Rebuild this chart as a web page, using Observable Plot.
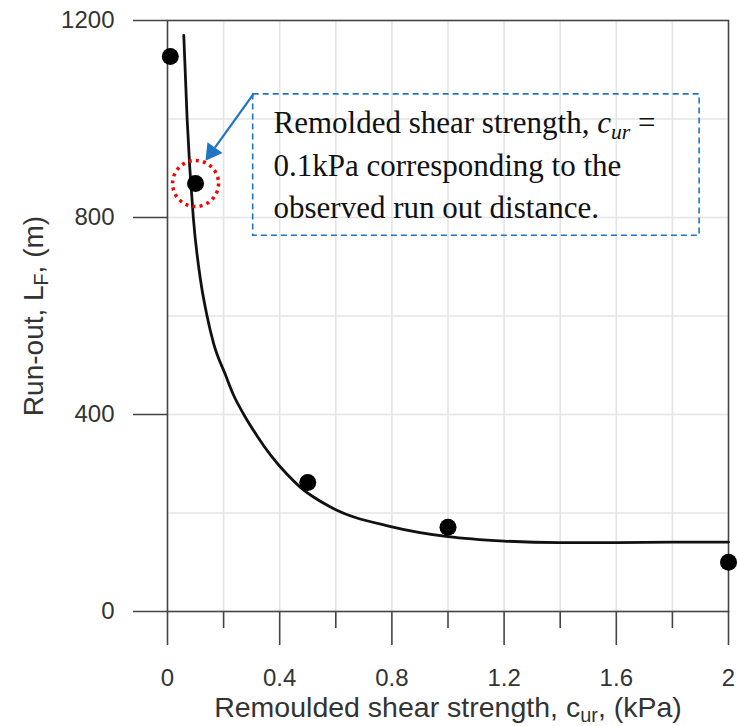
<!DOCTYPE html>
<html><head><meta charset="utf-8">
<script src="https://cdn.jsdelivr.net/npm/d3@7"></script>
<script src="https://cdn.jsdelivr.net/npm/@observablehq/plot@0.6"></script>
<style>body{margin:0;background:#fff}#chart{width:737px;height:726px}</style>
</head><body><div id="chart"></div>
<script>
// observed points
const pointX = [0.01, 0.1, 0.5, 1.0, 2.0];
const pointY = [1127, 869, 262, 171, 100];
// fitted curve
const curveX = [0.058, 0.070, 0.092, 0.118, 0.141, 0.164, 0.207, 0.235, 0.272, 0.32, 0.367, 0.427, 0.474, 0.581, 0.8, 1.0, 1.2, 1.4, 1.6, 1.8, 2.0];
const curveY = [1170, 1000, 800, 672, 600, 545, 480, 440, 400, 356, 318, 278, 252, 212, 172, 152, 143, 140, 140, 141, 141];
// ticks
const xMajorTicks = [0, 0.4, 0.8, 1.2, 1.6, 2];
const xMinorTicks = [0.2, 0.6, 1.0, 1.4, 1.8];
const xGridTicks = [0.2, 0.4, 0.6, 0.8, 1.0, 1.2, 1.4, 1.6, 1.8];
const yTicks = [0, 400, 800, 1200];
const yGridTicks = [200, 400, 600, 800, 1000];
// titles
const xTitle = "Remoulded shear strength, c_{ur}, (kPa)";
const yTitle = "Run-out, L_{F}, (m)";
// annotation
const noteLines = ["Remolded shear strength, *c*~{ur} =", "0.1kPa corresponding to the", "observed run out distance."];
const noteLineY = [971, 885, 800];
const noteX = [0.378, 0.378, 0.378];
const boxX1 = [0.3055], boxX2 = [1.897], boxY1 = [763], boxY2 = [1050];
const arrowX1 = [0.3055], arrowY1 = [1050], arrowX2 = [0.169], arrowY2 = [942];
const headX = [0.158], headY = [933];
const highlightX = [0.1], highlightY = [869];

const points = pointX.map((x, i) => ({x, y: pointY[i]}));
const curve = curveX.map((x, i) => ({x, y: curveY[i]}));
const notes = noteLines.map((t, i) => ({t, x: noteX[i], y: noteLineY[i]}));
const box = [{x1: boxX1[0], x2: boxX2[0], y1: boxY1[0], y2: boxY2[0]}];
const arrow = [{x1: arrowX1[0], y1: arrowY1[0], x2: arrowX2[0], y2: arrowY2[0]}];
const head = [{x: headX[0], y: headY[0]}];
const highlight = [{x: highlightX[0], y: highlightY[0]}];

const axisColor = "#444";
const blue = "#1f74c4";

const plot = Plot.plot({
  width: 737, height: 726,
  marginLeft: 167, marginRight: 9, marginTop: 20, marginBottom: 115,
  style: {fontFamily: "'Liberation Sans', Arial, sans-serif", background: "#fff", color: "#333"},
  x: {domain: [0, 2]},
  y: {domain: [0, 1200]},
  marks: [
    Plot.gridX(xGridTicks, {stroke: "#e4e4e4", strokeOpacity: 1, strokeWidth: 1.6}),
    Plot.gridY(yGridTicks, {stroke: "#e4e4e4", strokeOpacity: 1, strokeWidth: 1.6}),
    Plot.frame({stroke: axisColor, strokeWidth: 1.6}),
    Plot.axisY(yTicks, {tickSize: 34, tickPadding: 19, fontSize: 24, label: null, stroke: axisColor, strokeWidth: 1.6, fill: "#333", tickFormat: d => String(d)}),
    Plot.axisX(xMajorTicks, {tickSize: 34, tickPadding: 23, fontSize: 24, label: null, stroke: axisColor, strokeWidth: 1.6, fill: "#333", tickFormat: d => String(d)}),
    Plot.axisX(xMinorTicks, {tickSize: 17, tickFormat: () => "", label: null, stroke: axisColor, strokeWidth: 1.6}),
    Plot.text([xTitle], {text: d => d, frameAnchor: "bottom", textAnchor: "middle", lineAnchor: "bottom", dy: 105, fontSize: 28.5, fill: "#333"}),
    Plot.text([yTitle], {text: d => d, frameAnchor: "left", textAnchor: "middle", lineAnchor: "bottom", rotate: -90, dx: -125, fontSize: 28, fill: "#333"}),
    Plot.line(curve, {x: "x", y: "y", curve: "monotone-x", stroke: "#111", strokeWidth: 2.8}),
    Plot.dot(points, {x: "x", y: "y", r: 8.5, fill: "#000"}),
    Plot.dot(highlight, {x: "x", y: "y", r: 23, fill: "none", stroke: "#ff0000", strokeWidth: 3.5, strokeDasharray: "3 4.2"}),
    Plot.rect(box, {x1: "x1", x2: "x2", y1: "y1", y2: "y2", fill: "none", stroke: blue, strokeWidth: 1.6, strokeDasharray: "6 4"}),
    Plot.link(arrow, {x1: "x1", y1: "y1", x2: "x2", y2: "y2", stroke: blue, strokeWidth: 2.2}),
    Plot.dot(head, {x: "x", y: "y", symbol: "triangle", r: 6.9, fill: blue, rotate: 216}),
    Plot.text(notes, {x: "x", y: "y", text: "t", textAnchor: "start", lineAnchor: "bottom", fontSize: 31, fill: "#111", fontFamily: "'Liberation Serif', 'Times New Roman', serif"})
  ]
});

document.getElementById("chart").appendChild(plot);

// rich text: *x* italic, _{x} subscript, ~{x} italic subscript
d3.select(plot).selectAll("text").each(function () {
  const t = this.textContent;
  if (!(/\*|_\{|~\{/.test(t))) return;
  const fs = parseFloat(getComputedStyle(this).fontSize) || 24;
  const parts = t.split(/(\*[^*]+\*|_\{[^}]+\}|~\{[^}]+\})/).filter(s => s.length);
  while (this.firstChild) this.removeChild(this.firstChild);
  let shifted = 0;
  const el = d3.select(this);
  for (const p of parts) {
    let txt = p, italic = false, sub = false;
    if (p.startsWith("*")) { txt = p.slice(1, -1); italic = true; }
    else if (p.startsWith("_{")) { txt = p.slice(2, -1); sub = true; }
    else if (p.startsWith("~{")) { txt = p.slice(2, -1); sub = true; italic = true; }
    const ts = el.append("tspan").text(txt);
    if (italic) ts.attr("font-style", "italic");
    const target = sub ? 0.2 * fs : 0;
    if (target !== shifted) { ts.attr("dy", (target - shifted) + "px"); shifted = target; }
    if (sub) ts.attr("font-size", (0.7 * fs) + "px");
  }
});
</script>
</body></html>
